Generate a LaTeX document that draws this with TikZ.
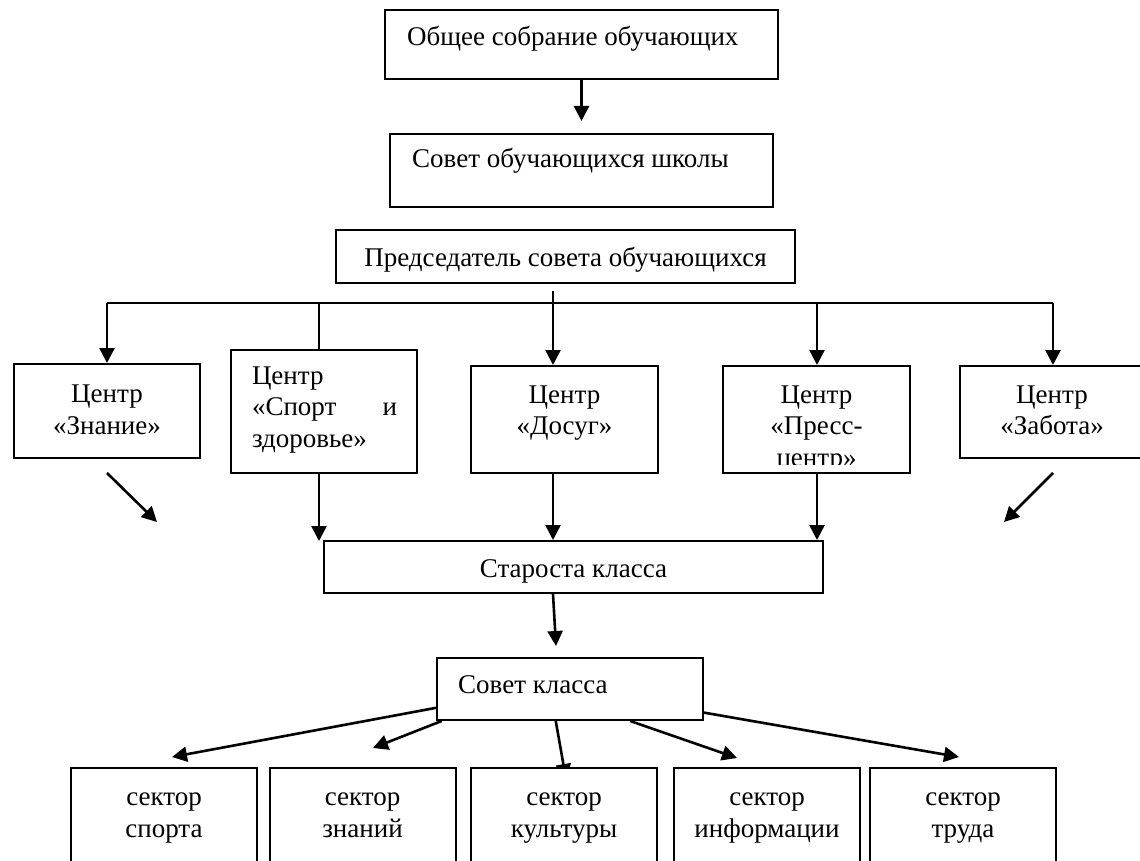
\documentclass[tikz,border=0pt]{standalone}
\usepackage{fontspec}
\setmainfont{Liberation Serif}
\usetikzlibrary{arrows.meta,backgrounds}
\begin{document}
\begin{tikzpicture}[x=1pt,y=-1pt,
  box/.style={draw, line width=2pt, fill=white, inner sep=0pt},
  txt/.style={font=\fontsize{27}{31.5}\selectfont, inner sep=0pt, align=center},
  conn/.style={line width=2.6pt},
  arr/.style={line width=2.6pt, -{Triangle[length=15pt,width=15pt]}},
  sector/.style={box, minimum width=186pt, minimum height=96pt}
]
\useasboundingbox (0,0) rectangle (1140,861);

% top boxes
\node[box, minimum width=393pt, minimum height=69pt] (b1) at (581.5,44.5) {};
\node[txt, anchor=base west] (t1) at (407,46) {Общее собрание обучающих};
\node[box, minimum width=383pt, minimum height=73pt] (b2) at (581.5,170.5) {};
\node[txt, anchor=base west] (t2) at (412,168) {Совет обучающихся школы};
\node[box, minimum width=459pt, minimum height=53pt] (b3) at (565.5,256.5) {};
\node[txt, anchor=base] (t3) at (565.5,266) {Председатель совета обучающихся};

% centres
\node[box, minimum width=186pt, minimum height=94pt] (zn) at (107,411) {};
\node[txt, anchor=base] (tzn) at (107,434) {Центр\\«Знание»};
\node[box, minimum width=186pt, minimum height=123pt] (sp) at (324,411.5) {};
\node[txt, anchor=base, align=left, text width=145pt] (tsp) at (324.5,384) {Центр\\«Спорт\hfill и\\здоровье»};
\node[box, minimum width=187pt, minimum height=107pt] (ds) at (564.5,419.5) {};
\node[txt, anchor=base] (tds) at (564.5,434.5) {Центр\\«Досуг»};
\node[box, minimum width=187pt, minimum height=107pt] (pr) at (816.5,419.5) {};
\begin{scope}
\clip (724,367) rectangle (909,464);
\node[txt, anchor=base] (tpr) at (816.5,466) {Центр\\«Пресс-\\центр»};
\end{scope}
\node[box, minimum width=184pt, minimum height=92pt] (zb) at (1052,412) {};
\node[txt, anchor=base] (tzb) at (1052,434.5) {Центр\\«Забота»};

% class level
\node[box, minimum width=499pt, minimum height=52pt] (st) at (573.5,567) {};
\node[txt, anchor=base] (tst) at (573.5,577) {Староста класса};
\node[box, minimum width=266pt, minimum height=62pt] (sk) at (570,689) {};
\node[txt, anchor=base west] (tsk) at (458,693) {Совет класса};

% sectors
\node[sector] (s1) at (164,816) {};
\node[txt, anchor=base] (ts1) at (164,837) {сектор\\спорта};
\node[sector] (s2) at (362.5,816) {};
\node[txt, anchor=base] (ts2) at (362.5,837) {сектор\\знаний};
\node[sector] (s3) at (564,816) {};
\node[txt, anchor=base] (ts3) at (564,837) {сектор\\культуры};
\node[sector] (s4) at (767,816) {};
\node[txt, anchor=base] (ts4) at (767,837) {сектор\\информации};
\node[sector] (s5) at (963,816) {};
\node[txt, anchor=base] (ts5) at (963,837) {сектор\\труда};

% coordinates
\coordinate (a1) at (581.5,121);
\coordinate (br0) at (553,291);
\coordinate (h1) at (107,303);
\coordinate (h2) at (319,303);
\coordinate (h3) at (553,303);
\coordinate (h4) at (817,303);
\coordinate (h5) at (1053,303);
\coordinate (dl1) at (107,473);
\coordinate (dl2) at (157,522);
\coordinate (dr1) at (1053,473);
\coordinate (dr2) at (1004,522);
\coordinate (sp2) at (319,541);
\coordinate (sk1) at (556,646);
\coordinate (e1) at (172,757);
\coordinate (e2) at (373,748);
\coordinate (e3) at (566,779);
\coordinate (e4) at (737,758);
\coordinate (e5) at (959,757);

\begin{scope}[on background layer]
\draw[arr] (b1.south) -- (a1);
\draw[conn] (br0) -- (h3);
\draw[conn] (h1) -- (h5);
\draw[arr] (h1) -- (h1 |- zn.north);
\draw[conn] (h2) -- (h2 |- sp.north);
\draw[arr] (h3) -- (h3 |- ds.north);
\draw[arr] (h4) -- (h4 |- pr.north);
\draw[arr] (h5) -- (h5 |- zb.north);
\draw[arr] (dl1) -- (dl2);
\draw[arr] (dr1) -- (dr2);
\draw[arr] (h2 |- sp.south) -- (sp2);
\draw[arr] (h3 |- ds.south) -- (h3 |- st.north);
\draw[arr] (h4 |- pr.south) -- (h4 |- st.north);
\draw[arr] (h3 |- st.south) -- (sk1);
\draw[arr] (sk.188) -- (e1);
\draw[arr] (sk.194) -- (e2);
\draw[arr] (sk.246) -- (e3);
\draw[arr] (sk.-28) -- (e4);
\draw[arr] (sk.-10) -- (e5);
\end{scope}
\end{tikzpicture}
\end{document}
